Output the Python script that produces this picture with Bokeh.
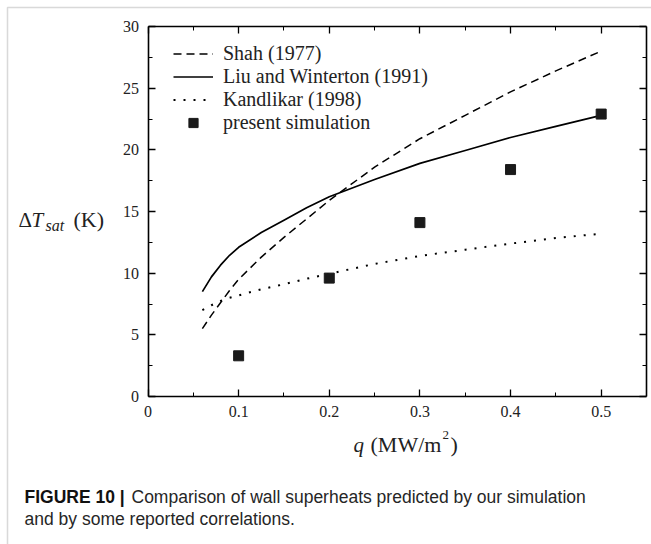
from bokeh.plotting import figure
from bokeh.models import (FixedTicker, LinearAxis, Legend, LegendItem, Label,
                          BoxAnnotation, Range1d)
from bokeh.embed import file_html
from bokeh.resources import INLINE

# ---------------- data ----------------
q_corr = [0.06, 0.07, 0.08, 0.09, 0.10, 0.125, 0.15, 0.175, 0.20, 0.25, 0.30, 0.35, 0.40, 0.45, 0.50]
shah = [5.5, 6.6, 7.6, 8.6, 9.5, 11.3, 12.9, 14.4, 15.9, 18.6, 20.9, 22.8, 24.7, 26.4, 28.0]
liu = [8.5, 9.7, 10.65, 11.45, 12.1, 13.3, 14.3, 15.3, 16.2, 17.6, 18.9, 19.95, 21.0, 21.9, 22.8]
kandlikar = [7.0, 7.4, 7.75, 8.0, 8.2, 8.7, 9.1, 9.55, 9.95, 10.75, 11.4, 11.9, 12.4, 12.85, 13.2]
q_sim = [0.1, 0.2, 0.3, 0.4, 0.5]
dT_sim = [3.3, 9.6, 14.1, 18.4, 22.9]

x_ticks = [0, 0.1, 0.2, 0.3, 0.4, 0.5]
x_tick_labels = ["0", "0.1", "0.2", "0.3", "0.4", "0.5"]
x_minor = [0.05, 0.15, 0.25, 0.35, 0.45]
y_ticks = [0, 5, 10, 15, 20, 25, 30]
y_tick_labels = ["0", "5", "10", "15", "20", "25", "30"]
y_minor = [2.5, 7.5, 12.5, 17.5, 22.5, 27.5]

series_names = ["Shah (1977)", "Liu and Winterton (1991)", "Kandlikar (1998)", "present simulation"]
x_label_parts = ["q", "(MW/m", "2", ")"]
y_label_parts = ["Δ", "T", "sat", "(K)"]
caption_bold = "FIGURE 10 |"
caption_line1 = "Comparison of wall superheats predicted by our simulation"
caption_line2 = "and by some reported correlations."

# ---------------- layout ----------------
W, H = 651, 544
FL, FR, FT, FB = 147.5, 646, 26, 396      # pixel box of the axes
XMIN, XMAX, YMIN, YMAX = 0.0, 0.55, 0.0, 30.0

def xq(px):
    return XMIN + (px - FL) / (FR - FL) * (XMAX - XMIN)

def yv(py):
    return YMIN + (FB - py) / (FB - FT) * (YMAX - YMIN)

SERIF = "Liberation Serif"
SANS = "Liberation Sans"

# the frame covers the whole canvas; axes are pinned at the box edges
p = figure(width=W, height=H, x_range=Range1d(xq(0), xq(W)), y_range=Range1d(yv(H), yv(0)),
           output_backend="svg", toolbar_location=None,
           min_border_left=0, min_border_right=0, min_border_top=0, min_border_bottom=0)
p.grid.visible = False
p.outline_line_color = None
p.background_fill_color = "white"
p.border_fill_color = "white"

def style_axis(ax, ticks, minor, labels, show_labels, loc, bounds):
    ax.fixed_location = loc
    ax.bounds = bounds
    ax.ticker = FixedTicker(ticks=ticks, minor_ticks=minor)
    ax.major_label_overrides = {t: l for t, l in zip(ticks, labels)}
    ax.axis_line_color = "black"
    ax.axis_line_width = 1.6
    ax.major_tick_in = 7
    ax.major_tick_out = 0
    ax.minor_tick_in = 4
    ax.minor_tick_out = 0
    ax.major_tick_line_width = 1.3
    ax.minor_tick_line_width = 1.0
    ax.major_tick_line_color = "black"
    ax.minor_tick_line_color = "black"
    ax.major_label_text_font = SERIF
    ax.major_label_text_font_size = "16px" if show_labels else "0px"
    ax.major_label_text_color = "#222222" if show_labels else None
    ax.major_label_standoff = 9 if show_labels else 0

style_axis(p.xaxis[0], x_ticks, x_minor, x_tick_labels, True, YMIN, (XMIN, XMAX))
style_axis(p.yaxis[0], y_ticks, y_minor, y_tick_labels, True, XMIN, (YMIN, YMAX))
top_ax = LinearAxis()
right_ax = LinearAxis()
style_axis(top_ax, x_ticks, x_minor, x_tick_labels, False, YMAX, (XMIN, XMAX))
style_axis(right_ax, y_ticks, y_minor, y_tick_labels, False, XMAX, (YMIN, YMAX))
p.add_layout(top_ax, "above")
p.add_layout(right_ax, "right")

# ---------------- series ----------------
r_shah = p.line(q_corr, shah, line_color="black", line_width=1.5, line_dash="8 5")
r_liu = p.line(q_corr, liu, line_color="black", line_width=1.7)
r_kan = p.line(q_corr, kandlikar, line_color="black", line_width=2, line_dash="2 8")
r_sim = p.scatter(q_sim, dT_sim, marker="square", size=10, fill_color="#1a1a1a",
                  line_color="#1a1a1a")

LEG_TOP, ROW = 41.5, 23
legend = Legend(items=[LegendItem(label=series_names[0], renderers=[r_shah]),
                       LegendItem(label=series_names[1], renderers=[r_liu]),
                       LegendItem(label=series_names[2], renderers=[r_kan]),
                       LegendItem(label=series_names[3], renderers=[r_sim])],
                location=(173, H - (LEG_TOP + 4 * ROW)), padding=0, margin=0, spacing=0,
                glyph_width=40, glyph_height=ROW, label_height=ROW, label_standoff=10,
                label_text_font=SERIF, label_text_font_size="20px",
                label_text_color="#222222",
                background_fill_alpha=0, border_line_color=None)
p.add_layout(legend, "center")

# ---------------- axis labels and caption as text ----------------
def lab(text, px, py, size, style="normal", font=SERIF, color="#222222"):
    p.add_layout(Label(x=xq(px), y=yv(py), text=text, text_font=font,
                       text_font_size=f"{size}px", text_font_style=style,
                       text_baseline="alphabetic", text_align="left", text_color=color))

lab(y_label_parts[0], 18, 219, 21)
lab(y_label_parts[1], 31, 219, 21, "italic")
lab(y_label_parts[2], 45, 225, 16, "italic")
lab(y_label_parts[3], 73, 219, 22)

lab(x_label_parts[0], 353, 444, 21, "italic")
lab(x_label_parts[1], 370, 444, 22)
lab(x_label_parts[2], 442, 434, 13)
lab(x_label_parts[3], 450, 444, 22)

lab(caption_bold, 24, 496, 17.5, "bold", font=SANS, color="#111111")
lab(caption_line1, 131, 496, 17.5, font=SANS, color="#262626")
lab(caption_line2, 24, 518, 17.5, font=SANS, color="#262626")

# outer grey frame (top and left edges visible)
p.add_layout(BoxAnnotation(left=xq(7), right=xq(W + 20), top=yv(7), bottom=yv(H + 20),
                           fill_alpha=0, line_color="#808080", line_width=1.5))

open("out.html", "w").write(file_html(p, INLINE))
